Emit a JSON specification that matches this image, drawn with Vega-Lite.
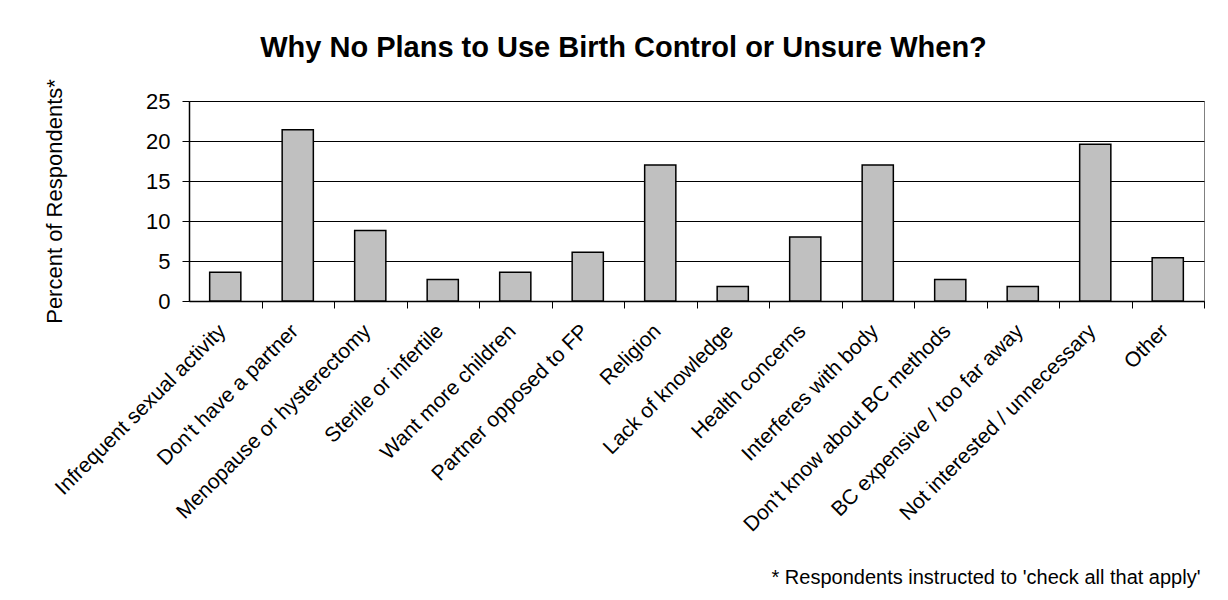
{
  "$schema": "https://vega.github.io/schema/vega-lite/v6.json",
  "width": 1015,
  "height": 200,
  "autosize": {"type": "none"},
  "padding": {"left": 189, "top": 101, "right": 24, "bottom": 299},
  "background": "white",
  "config": {
    "font": "Liberation Sans",
    "view": {"stroke": "#808080", "strokeWidth": 1}
  },
  "title": {
    "text": "Why No Plans to Use Birth Control or Unsure When?",
    "fontSize": 29,
    "fontWeight": "bold",
    "color": "black",
    "anchor": "middle",
    "dx": -73,
    "baseline": "alphabetic",
    "offset": -7
  },
  "data": {
    "values": [
      {"reason": "Infrequent sexual activity", "pct": 3.6},
      {"reason": "Don't have a partner", "pct": 21.4},
      {"reason": "Menopause or hysterectomy", "pct": 8.8},
      {"reason": "Sterile or infertile", "pct": 2.7},
      {"reason": "Want more children", "pct": 3.6},
      {"reason": "Partner opposed to FP", "pct": 6.1},
      {"reason": "Religion", "pct": 17.0},
      {"reason": "Lack of knowledge", "pct": 1.8},
      {"reason": "Health concerns", "pct": 8.0},
      {"reason": "Interferes with body", "pct": 17.0},
      {"reason": "Don't know about BC methods", "pct": 2.7},
      {"reason": "BC expensive / too far away", "pct": 1.8},
      {"reason": "Not interested / unnecessary", "pct": 19.6},
      {"reason": "Other", "pct": 5.4}
    ]
  },
  "mark": {"type": "bar", "fill": "#c0c0c0", "stroke": "black", "strokeWidth": 1.5},
  "encoding": {
    "x": {
      "field": "reason",
      "type": "nominal",
      "sort": null,
      "scale": {"paddingInner": 0.57, "paddingOuter": 0.285},
      "axis": {
        "title": "* Respondents instructed to 'check all that apply'",
        "titleFontSize": 20,
        "titleFontWeight": "normal",
        "titleColor": "black",
        "titleAnchor": "end",
        "titleAlign": "right",
        "titleBaseline": "alphabetic",
        "titleX": 1011,
        "titleY": 282,
        "labelAngle": -45,
        "labelFontSize": 21,
        "labelColor": "black",
        "labelPadding": 12,
        "labelLimit": 400,
        "labelOffset": -47,
        "domainColor": "black",
        "domainWidth": 1.5,
        "tickColor": "black",
        "tickSize": 7,
        "tickWidth": 1,
        "tickOffset": 36.25,
        "grid": false
      }
    },
    "y": {
      "field": "pct",
      "type": "quantitative",
      "scale": {"domain": [0, 25], "nice": false},
      "axis": {
        "title": "Percent of Respondents*",
        "titleFontSize": 22,
        "titleFontWeight": "normal",
        "titleColor": "black",
        "titleX": -135,
        "titleY": 100,
        "titleAlign": "center",
        "titleBaseline": "middle",
        "values": [0, 5, 10, 15, 20, 25],
        "labelFontSize": 22,
        "labelColor": "black",
        "labelPadding": 12,
        "domainColor": "black",
        "domainWidth": 1.5,
        "tickColor": "black",
        "tickSize": 7,
        "grid": true,
        "gridColor": "black",
        "gridWidth": 1
      }
    }
  }
}
